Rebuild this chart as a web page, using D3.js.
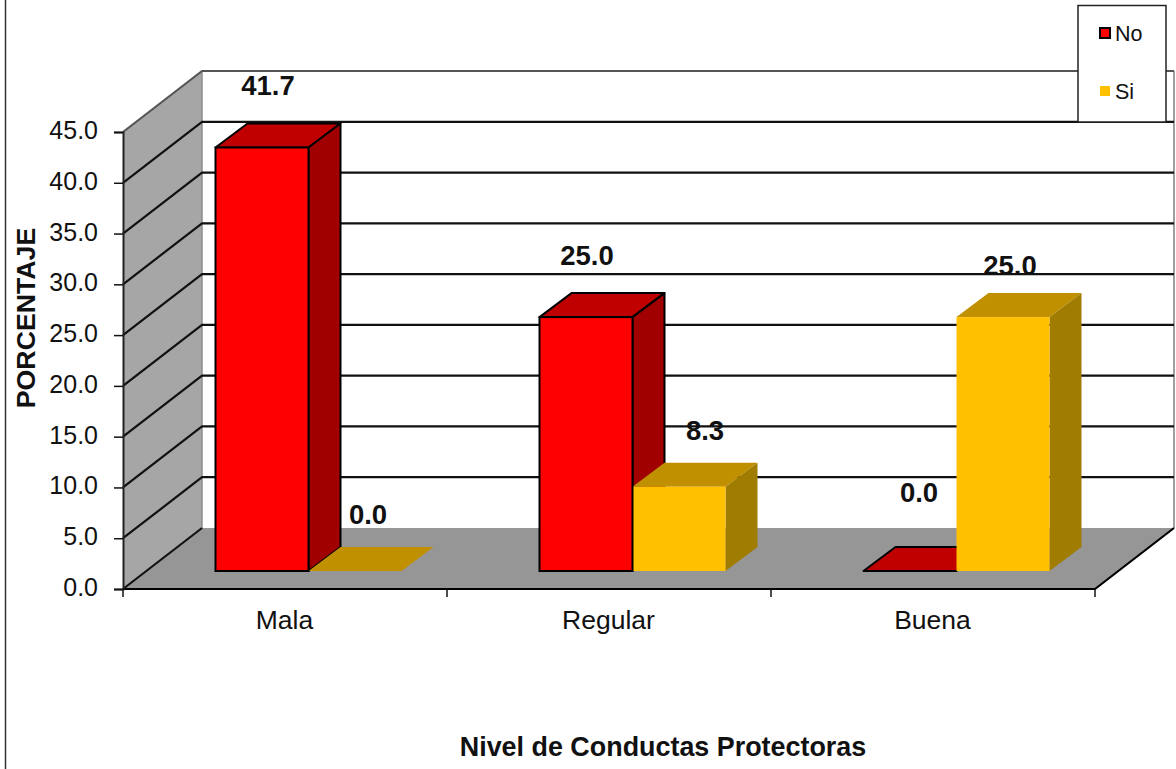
<!DOCTYPE html>
<html>
<head>
<meta charset="utf-8">
<script src="https://cdn.jsdelivr.net/npm/d3@7"></script>
<style>
  html, body { margin: 0; padding: 0; background: #fff; overflow: hidden; }
  svg { display: block; }
  text { font-family: "Liberation Sans", Arial, sans-serif; fill: #111; }
</style>
</head>
<body>
<svg id="chart" width="1176" height="769"></svg>
<script>
// Data
const categories = ["Mala", "Regular", "Buena"];
const seriesNames = ["No", "Si"];
const noValues = [41.7, 25.0, 0.0];
const siValues = [0.0, 8.3, 25.0];
const yTicks = [0, 5, 10, 15, 20, 25, 30, 35, 40, 45];
const xTitle = "Nivel de Conductas Protectoras";
const yTitle = "PORCENTAJE";

// Oblique projection of the chart box
const box = { left: 123, right: 1095, top: 132, bottom: 589 };
const wallDepth = { dx: 79, dy: -61 };
const barInset = { dx: 23.5, dy: -18 };
const barDepth = { dx: 32, dy: -24 };

const palette = {
  No: { front: "#ff0000", top: "#c00000", side: "#a00000", stroke: "#000" },
  Si: { front: "#ffc000", top: "#c09000", side: "#a07c00", stroke: "none" }
};

// Label nudges relative to each bar's top centre, by series then category
const labelNudge = {
  No: [[6, -53], [1, -52], [9, -69]],
  Si: [[13, -47], [26, -47], [7, -42]]
};

const svg = d3.select("#chart");

const y = d3.scaleLinear().domain([0, 45]).range([box.bottom, box.top]);
const x = d3.scaleBand().domain(categories).range([box.left, box.right]).paddingInner(0).paddingOuter(0);
const xInner = d3.scaleBand().domain(seriesNames).range([69, x.bandwidth() - 69]);

const pts = arr => arr.map(p => p.join(",")).join(" ");

// Outer frame line on the left
svg.append("line").attr("x1", 5.5).attr("x2", 5.5).attr("y1", 0).attr("y2", 769)
  .attr("stroke", "#333").attr("stroke-width", 1.5);

// Side wall
svg.append("polygon")
  .attr("points", pts([
    [box.left, y(45)], [box.left + wallDepth.dx, y(45) + wallDepth.dy],
    [box.left + wallDepth.dx, y(0) + wallDepth.dy], [box.left, y(0)]
  ]))
  .attr("fill", "#a6a6a6");
svg.append("line")
  .attr("x1", box.left + wallDepth.dx).attr("x2", box.left + wallDepth.dx)
  .attr("y1", y(45) + wallDepth.dy).attr("y2", y(0) + wallDepth.dy)
  .attr("stroke", "#8c8c8c").attr("stroke-width", 1.5);

// Floor
svg.append("polygon")
  .attr("points", pts([
    [box.left, y(0)], [box.right, y(0)],
    [box.right + wallDepth.dx, y(0) + wallDepth.dy], [box.left + wallDepth.dx, y(0) + wallDepth.dy]
  ]))
  .attr("fill", "#969696");

// Right edge of the back wall
svg.append("line")
  .attr("x1", box.right + wallDepth.dx).attr("x2", box.right + wallDepth.dx)
  .attr("y1", y(45) + wallDepth.dy).attr("y2", y(0) + wallDepth.dy)
  .attr("stroke", "#a0a0a0").attr("stroke-width", 2);

// Gridlines: along the side wall and across the back wall
const grid = svg.append("g").attr("fill", "none").attr("stroke-linejoin", "round");
yTicks.forEach(t => {
  grid.append("polyline")
    .attr("stroke", t === 45 ? "#555" : "#111")
    .attr("stroke-width", 2.2)
    .attr("points", t === 0
      ? pts([[box.left, y(t)], [box.left + wallDepth.dx, y(t) + wallDepth.dy]])
      : pts([[box.left, y(t)], [box.left + wallDepth.dx, y(t) + wallDepth.dy],
             [box.right + wallDepth.dx, y(t) + wallDepth.dy]]));
});

// Front and right floor edges
svg.append("polyline")
  .attr("points", pts([
    [box.left, y(0)], [box.right, y(0)],
    [box.right + wallDepth.dx, y(0) + wallDepth.dy]
  ]))
  .attr("fill", "none").attr("stroke", "#000").attr("stroke-width", 2.2);

// Value axis
const yAxis = svg.append("g")
  .attr("transform", `translate(${box.left},0)`)
  .call(d3.axisLeft(y).tickValues(yTicks).tickFormat(d3.format(".1f")).tickSize(9).tickPadding(16));
yAxis.select(".domain").attr("stroke", "#222").attr("stroke-width", 2);
yAxis.selectAll(".tick line").attr("stroke", "#111").attr("stroke-width", 1.5);
yAxis.selectAll("text").style("font-size", "25px").attr("fill", "#111").attr("dy", "0.26em");

// Category axis: ticks sit on the band boundaries, labels on the band centres
const xAxis = svg.append("g")
  .attr("transform", `translate(0,${box.bottom})`)
  .call(d3.axisBottom(x).tickSize(0).tickPadding(21));
xAxis.select(".domain").remove();
xAxis.selectAll("text").style("font-size", "26.5px").attr("fill", "#111").attr("dx", "-0.5");
xAxis.selectAll(".boundary")
  .data(d3.range(categories.length + 1))
  .join("line")
  .attr("class", "boundary")
  .attr("x1", i => box.left + i * x.step()).attr("x2", i => box.left + i * x.step())
  .attr("y1", 0).attr("y2", 8)
  .attr("stroke", "#111").attr("stroke-width", 1.5);

// Bars
const marks = [];
categories.forEach((c, i) => {
  marks.push({ cat: c, i, series: "No", value: noValues[i] });
  marks.push({ cat: c, i, series: "Si", value: siValues[i] });
});

const barGeometry = m => {
  const x0 = x(m.cat) + xInner(m.series) + barInset.dx;
  return {
    x0,
    x1: x0 + xInner.bandwidth(),
    base: y(0) + barInset.dy,
    top: y(m.value) + barInset.dy
  };
};

// Top and side faces go down first, in series order
const bars = svg.append("g");
marks.forEach(m => {
  const c = palette[m.series];
  const { x0, x1, base, top } = barGeometry(m);
  const g = bars.append("g").attr("stroke", c.stroke).attr("stroke-width", 2).attr("stroke-linejoin", "round");
  g.append("polygon")
    .attr("fill", c.top)
    .attr("points", pts([
      [x0, top], [x1, top], [x1 + barDepth.dx, top + barDepth.dy], [x0 + barDepth.dx, top + barDepth.dy]
    ]));
  if (m.value > 0) {
    g.append("polygon")
      .attr("fill", c.side)
      .attr("points", pts([
        [x1, top], [x1 + barDepth.dx, top + barDepth.dy],
        [x1 + barDepth.dx, base + barDepth.dy], [x1, base]
      ]));
  }
});

// Front faces follow, outlined series last so its edge stays visible
["Si", "No"].forEach(series => {
  marks.filter(m => m.series === series && m.value > 0).forEach(m => {
    const c = palette[m.series];
    const { x0, x1, base, top } = barGeometry(m);
    bars.append("rect")
      .attr("x", x0).attr("y", top)
      .attr("width", x1 - x0).attr("height", base - top)
      .attr("fill", c.front)
      .attr("stroke", c.stroke).attr("stroke-width", 2);
  });
});

// Value labels
const labels = svg.append("g");
marks.forEach(m => {
  const nudge = labelNudge[m.series][m.i];
  const { x0, x1, top } = barGeometry(m);
  labels.append("text")
    .attr("x", (x0 + x1) / 2 + nudge[0])
    .attr("y", top + nudge[1])
    .attr("text-anchor", "middle")
    .style("font-size", "27.5px").style("font-weight", "bold")
    .text(d3.format(".1f")(m.value));
});

// Axis titles
svg.append("text")
  .attr("x", 663).attr("y", 756)
  .attr("text-anchor", "middle")
  .style("font-size", "26.9px").style("font-weight", "bold")
  .text(xTitle);
svg.append("text")
  .attr("transform", "translate(35,318) rotate(-90)")
  .attr("text-anchor", "middle")
  .style("font-size", "26.7px").style("font-weight", "bold")
  .text(yTitle);

// Legend
const legend = svg.append("g");
legend.append("rect")
  .attr("x", 1078).attr("y", 5.5).attr("width", 88).attr("height", 116.5)
  .attr("fill", "#fff").attr("stroke", "#222").attr("stroke-width", 1.5);
const legendRow = d3.scalePoint().domain(seriesNames).range([33, 91]);
seriesNames.forEach(name => {
  const c = palette[name];
  const cy = legendRow(name);
  legend.append("rect")
    .attr("x", 1100).attr("y", cy - 5).attr("width", 10).attr("height", 10)
    .attr("fill", c.front)
    .attr("stroke", c.stroke).attr("stroke-width", 2);
  legend.append("text")
    .attr("x", 1115).attr("y", cy + 7.5)
    .style("font-size", "21.5px")
    .text(name);
});
</script>
</body>
</html>
